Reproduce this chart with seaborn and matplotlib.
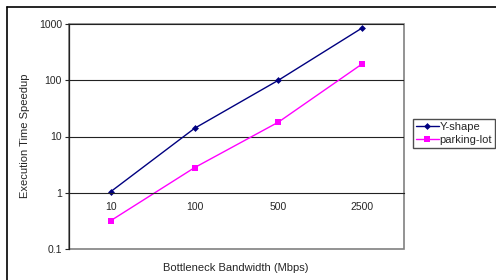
import matplotlib
matplotlib.use("Agg")
import matplotlib.pyplot as plt
import seaborn as sns
import pandas as pd
from matplotlib.lines import Line2D

bandwidth = ["10", "100", "500", "2500"]
y_shape = [1.05, 14, 100, 850]
parking_lot = [0.32, 2.8, 18, 195]
series_names = ["Y-shape", "parking-lot"]

sns.set_style("white")
plt.rcParams['font.family'] = ['Liberation Sans', 'DejaVu Sans']

df = pd.DataFrame({
    "bw": bandwidth * 2,
    "val": y_shape + parking_lot,
    "series": [series_names[0]] * 4 + [series_names[1]] * 4,
})
df["pos"] = list(range(4)) * 2

fig = plt.figure(figsize=(4.96, 2.8), dpi=100)
ax = fig.add_axes([69/496, 1-249/280, (404-69)/496, (249-24)/280])

sns.lineplot(data=df, x="pos", y="val", hue="series", style="series",
             palette={"Y-shape": "#000080", "parking-lot": "#FF00FF"},
             markers={"Y-shape": "D", "parking-lot": "s"},
             dashes=False, markersize=4, linewidth=1, markeredgewidth=0,
             sort=False, ax=ax, legend=False)
for ln, ms in zip(ax.lines, [3.5, 5]):
    ln.set_markersize(ms)

ax.set_yscale("log")
ax.set_ylim(0.1, 1000)
ax.set_xlim(-0.5, 3.5)
ax.set_yticks([0.1, 1, 10, 100, 1000])
ax.set_yticklabels(["0.1", "1", "10", "100", "1000"])
ax.yaxis.set_minor_locator(matplotlib.ticker.NullLocator())
ax.set_xticks(range(4))
ax.set_xticklabels(bandwidth)
ax.set_xticks([-0.5, 0.5, 1.5, 2.5, 3.5], minor=True)
ax.tick_params(axis="x", which="major", length=0, pad=7, labelsize=7.5)
ax.tick_params(axis="x", which="minor", length=3, direction="in", width=0.8, color="#333333")
ax.tick_params(axis="y", which="major", length=3, direction="out", width=0.8, left=True, pad=2, labelsize=7.5)

for v in [10, 100, 1000]:
    ax.axhline(v, color="#222222", linewidth=0.8, zorder=0)

ax.spines["bottom"].set_position(("data", 1))
ax.spines["bottom"].set_color("#222222")
ax.spines["bottom"].set_linewidth(0.8)
ax.spines["left"].set_color("#222222")
ax.spines["left"].set_linewidth(0.9)
ax.spines["top"].set_visible(False)
ax.spines["right"].set_visible(False)
ax.patch.set_edgecolor("#808080")
ax.patch.set_linewidth(1.2)

ax.set_xlabel("")
ax.set_ylabel("")
fig.text(236/496, 1-268/280, "Bottleneck Bandwidth (Mbps)", ha="center", va="center", fontsize=8)
fig.text(25/496, 1-136/280, "Execution Time Speedup", ha="center", va="center", rotation=90, fontsize=8)

handles = [Line2D([], [], color="#000080", marker="D", markersize=3.5, linewidth=1, markeredgewidth=0),
           Line2D([], [], color="#FF00FF", marker="s", markersize=5, linewidth=1, markeredgewidth=0)]
leg = fig.legend(handles, series_names, loc="upper left", bbox_to_anchor=(413/496, 1-119/280),
                 fontsize=8, frameon=True, fancybox=False, handlelength=2.0, handletextpad=0.1,
                 borderpad=0.3, labelspacing=0.25, borderaxespad=0)
leg.get_frame().set_edgecolor("#222222")
leg.get_frame().set_linewidth(1)

fig.add_artist(Line2D([7/496, 1], [1-7/280, 1-7/280], color="black", linewidth=1.2, transform=fig.transFigure))
fig.add_artist(Line2D([7/496, 7/496], [0, 1-7/280], color="black", linewidth=1.2, transform=fig.transFigure))

fig.savefig("out.png", dpi=100)
